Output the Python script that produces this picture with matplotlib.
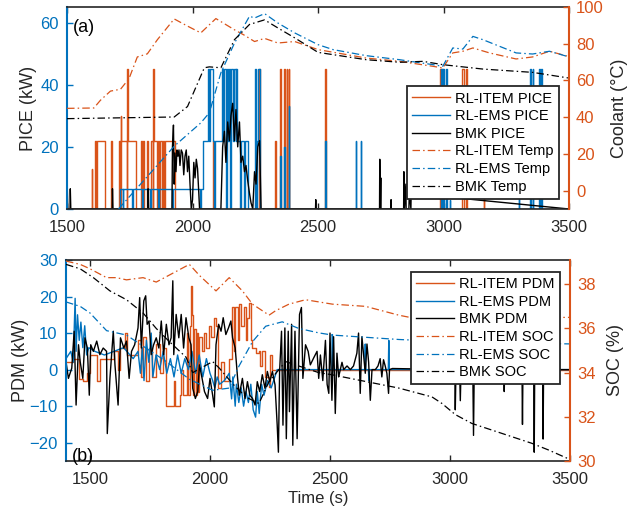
import matplotlib
matplotlib.use("Agg")
import matplotlib.pyplot as plt

plt.rcParams['font.family'] = ['Liberation Sans', 'DejaVu Sans']

ORANGE = '#D95319'
BLUE = '#0072BD'
GREY = '#262626'

# ---------------- (a) engine power / coolant temperature ----------------
# step series: value holds until the next time
item_pice_t = [1500, 1598, 1600, 1612, 1616, 1620, 1652, 1676, 1680, 1706, 1712, 1714, 1717, 1737,
               1739, 1741, 1775, 1793, 1797, 1803, 1806, 1818, 1824, 1836, 1842, 1844, 1847, 1858,
               1861, 1868, 1872, 1878, 1882, 1888, 1892, 1930, 2082, 2085, 2264, 2267, 2330, 2332,
               2350, 2352, 2365, 2367, 2375, 2377, 2383, 2385, 2529, 2531, 2984, 2996, 3074, 3080,
               3088, 3094, 3160, 3162, 3500]
item_pice_v = [0, 13, 0, 22, 0, 22, 0, 22, 0, 22, 0, 30, 22, 0,
               45, 22, 0, 22, 0, 22, 0, 22, 0, 22, 0, 45, 22, 0,
               22, 0, 22, 0, 22, 0, 22, 0, 22, 0, 45, 0, 22, 0,
               45, 0, 45, 0, 45, 0, 45, 0, 45, 0, 45, 0, 45, 0,
               45, 0, 4, 0, 0]

ems_pice_t = [1500, 1710, 1722, 1724, 1760, 1763, 1800, 1803, 1830, 1833, 1862, 1865, 1920, 1923,
              2030, 2033, 2040, 2062, 2066, 2070, 2082, 2086, 2089, 2118, 2123, 2126, 2133, 2136,
              2141, 2145, 2150, 2153, 2160, 2165, 2172, 2175, 2178, 2190, 2193, 2205, 2208, 2222,
              2249, 2253, 2256, 2262, 2269, 2350, 2352, 2365, 2367, 2383, 2385, 2529, 2531, 2650,
              2652, 2670, 2672, 2990, 2993, 2998, 3001, 3010, 3013, 3025, 3027, 3300, 3302, 3345,
              3348, 3355, 3358, 3380, 3383, 3390, 3393, 3500]
ems_pice_v = [0, 6.5, 0, 6.5, 0, 6.5, 0, 6.5, 0, 6.5, 0, 6.5, 0, 6.5,
              0, 6.5, 22, 45, 22, 45, 22, 0, 22, 45, 22, 45, 0, 45,
              22, 45, 0, 45, 22, 45, 22, 45, 22, 0, 22, 0, 22, 0,
              45, 0, 22, 45, 0, 17, 0, 20, 0, 33, 0, 22, 0, 22,
              0, 22, 0, 45, 0, 45, 0, 45, 0, 3, 0, 5, 0, 45,
              0, 45, 0, 45, 0, 45, 0, 0]

bmk_pice_t = [1500, 1501, 1503, 1512, 1513, 1515, 1680, 1681, 1683, 1822, 1823, 1825, 1918, 1920,
              1924, 1927, 1930, 1934, 1938, 1942, 1946, 1950, 1955, 1960, 1965, 1970, 1975, 1980,
              1985, 1990, 1995, 2000, 2005, 2010, 2015, 2020, 2025, 2028, 2113, 2120, 2127, 2133,
              2140, 2147, 2153, 2160, 2167, 2173, 2180, 2187, 2193, 2200, 2207, 2213, 2220, 2227,
              2233, 2240, 2247, 2253, 2260, 2267, 2273, 2490, 2491, 2492, 2745, 2746, 2748, 2750,
              2751, 2790, 2791, 2792, 2841, 2842, 2844, 2850, 2851, 2862, 2864, 2870, 2871, 3500]
bmk_pice_v = [0, 6.5, 0, 0, 6.5, 0, 0, 6.5, 0, 0, 6.5, 0, 0, 20,
              27, 8, 18, 12, 19, 17, 19, 14, 19, 18, 11, 17, 19, 12,
              17, 8, 0, 3, 15, 10, 16, 13, 5, 0, 0, 20, 25, 15,
              28, 22, 30, 34, 22, 32, 20, 28, 15, 17, 12, 14, 9, 5,
              2, 0, 12, 8, 20, 22, 0, 0, 3, 0, 0, 16, 0, 10,
              0, 0, 3, 0, 0, 12, 0, 8, 0, 0, 6, 0, 5, 0]

item_temp_t = [1500, 1607, 1633, 1673, 1713, 1747, 1780, 1820, 1860, 1927, 1980, 2033, 2093, 2167,
               2207, 2247, 2287, 2340, 2407, 2500, 2692, 2825, 2958, 2997, 3037, 3077, 3117, 3183,
               3289, 3355, 3422, 3500]
item_temp_v = [44.8, 45, 49.2, 54.2, 55.2, 61, 72.8, 74.5, 82.2, 93.5, 89.6, 85.9, 93.7, 87.6,
               84.6, 81.2, 82.9, 80.4, 81.2, 76.8, 72.2, 70.4, 67.7, 66.8, 75, 75.9, 77.7, 75,
               71.7, 72.8, 75.9, 73]

ems_temp_t = [1705, 1927, 2033, 2067, 2113, 2167, 2227, 2247, 2287, 2340, 2407, 2500, 2560, 2692,
              2825, 2958, 2997, 3037, 3077, 3117, 3157, 3289, 3355, 3422, 3500]
ems_temp_v = [-10, 24.2, 36.9, 42.4, 64.2, 80.3, 95, 94, 96.4, 91.3, 85.9, 79.5, 76.8, 73.5,
              71.3, 68.6, 67.7, 77.7, 77.1, 84, 82.2, 75, 74.4, 75.9, 72.8]

bmk_temp_t = [1500, 1927, 1980, 2047, 2067, 2113, 2167, 2227, 2287, 2340, 2407, 2500, 2692, 2825,
              2918, 2997, 3157, 3355, 3500]
bmk_temp_v = [39.2, 40.1, 45.8, 66.9, 67.4, 66.9, 82.2, 90.5, 93, 88.6, 83.2, 75.3, 71.3, 69.9,
              70.4, 68.6, 66.2, 64.4, 61.3]

# ---------------- (b) motor power / battery SOC ----------------
item_pdm_t = [1400, 1430, 1455, 1470, 1486, 1500, 1530, 1540, 1600, 1615, 1625, 1645, 1655, 1700,
              1714, 1722, 1735, 1745, 1760, 1776, 1790, 1805, 1818, 1848, 1855, 1873, 1880, 1888,
              1905, 1910, 1915, 1921, 1925, 1928, 1935, 1940, 1945, 1950, 1956, 1965, 1975, 1985,
              1995, 2005, 2015, 2025, 2032, 2045, 2060, 2080, 2090, 2100, 2105, 2115, 2122, 2130,
              2140, 2149, 2155, 2162, 2170, 2177, 2190, 2204, 2210, 2218, 2230, 2245, 2252, 2260,
              3500]
item_pdm_v = [2, 3, -2.5, -3, -1, 4, -3, 3, 5, 0, 6, 10, 4, 8,
              -2, 9, -3, 6, -2, 7, -1, 6, -10, -3, -10, -7, 0, -7,
              10, -7, 12, 23, 15, -7, 11, -7, 10, -6, 9, 5, 10, 6,
              12, 9, 14, 12, -5, 2, -3, 3, 17, 5, 17, 8, 18, 12,
              17, 8, 14, 18.3, 8, 6, 4.5, 5, 1, 5, -2, -4.7, 4, 0,
              0]

ems_pdm_t = [1400, 1420, 1430, 1438, 1442, 1448, 1455, 1462, 1470, 1478, 1486, 1495, 1520, 1560,
             1600, 1640, 1680, 1700, 1710, 1718, 1725, 1735, 1745, 1755, 1762, 1775, 1790, 1805,
             1820, 1835, 1850, 1865, 1880, 1895, 1910, 1925, 1940, 1955, 1970, 1985, 2000, 2011,
             2020, 2030, 2040, 2060, 2080, 2090, 2095, 2105, 2110, 2120, 2130, 2140, 2150, 2160,
             2170, 2180, 2190, 2197, 2205, 2215, 2225, 2240, 2255, 2270, 2280, 2508, 2510, 2512,
             2645, 2647, 2649, 2660, 2662, 2664, 2743, 2745, 2747, 3500]
ems_pdm_v = [3, 5, 2, 19.5, 5, 15, 8, 13, 6, 12, 4, 6, 5, 4,
             5, 6, 3, 5, -1, 6, -3, 8, 2, 10, -2, 4, 0, 5,
             -1, 3, -2, 4, -1, 3, 0, 5, -1, 4, -2, 3, -1, -3,
             -5, -2, -4, -3, -1, -8, -2, -10, -4, -9, -5, -10, -6, -9,
             -4, -11, -13, -6, -12, -4, -7, -3, -5, -2, 0, 0, 9.6, 0,
             0, 7, 0, 0, -3, 0, 0, 8, 0, 0]

bmk_pdm_t = [1400, 1410, 1424, 1434, 1442, 1452, 1459, 1470, 1479, 1489, 1497, 1503, 1514, 1528,
             1541, 1555, 1569, 1572, 1583, 1597, 1604, 1617, 1627, 1641, 1652, 1663, 1673, 1686,
             1700, 1707, 1714, 1724, 1732, 1738, 1746, 1755, 1765, 1776, 1787, 1797, 1807, 1818,
             1829, 1838, 1845, 1849, 1859, 1870, 1880, 1890, 1900, 1912, 1921, 1928, 1939, 1949,
             1956, 1967, 1977, 1990, 2000, 2011, 2018, 2025, 2036, 2046, 2055, 2066, 2077, 2087,
             2094, 2105, 2115, 2122, 2135, 2146, 2156, 2166, 2177, 2188, 2197, 2207, 2218, 2229,
             2239, 2249, 2260, 2271, 2280, 2285, 2290, 2298, 2304, 2312, 2318, 2326, 2331, 2340,
             2345, 2354, 2363, 2373, 2381, 2387, 2398, 2409, 2418, 2432, 2446, 2453, 2460, 2470,
             2481, 2488, 2495, 2500, 2508, 2515, 2522, 2529, 2536, 2543, 2550, 2557, 2571, 2585,
             2598, 2612, 2619, 2626, 2633, 2640, 2647, 2654, 2661, 2668, 2675, 2689, 2700, 2709,
             2716, 2723, 2730, 2737, 2744, 2748, 2760, 3020, 3022, 3025, 3040, 3043, 3046, 3095,
             3098, 3101, 3224, 3226, 3228, 3300, 3302, 3304, 3349, 3351, 3353, 3386, 3388, 3390,
             3500]
bmk_pdm_v = [2.2, -2.4, 0.4, 10.5, -9.7, 6.8, 2.2, -2.4, 8.7, 5.9, -7, 6.8, 5, 7.8,
             4.1, 5.9, 5, -17.5, -2.4, 10.5, 1.3, -9.7, 8.7, 5.9, 7.8, -2.4, 5, 6.8,
             11.4, 19.7, 5.9, 18.8, 20.2, 12.4, 13.3, 4.1, 6.8, 8.7, 5.9, 13.3, 4.1, 12.4,
             6.8, 8.7, 24.3, 4.1, 15.1, 8.7, 15.1, 5.9, 14.2, 8.7, 6.8, -5.1, -7.9, -6,
             1.3, -2.4, -6, -7.9, -2.4, -7, -10.2, 6.8, 12.4, 10.5, 14.2, 9.6, 11.4, 13.3,
             8.7, 5.9, -2.4, -7, -2.4, -7.9, -3.3, -7, -7.9, -9.7, -3.3, -6, -1.4, -5.1,
             -0.5, -3.3, -0.5, -4.2, -15.2, -22.6, -0.5, 10.5, -15.2, 11.4, -18.9, 10.5, -11.5, 12.4,
             -20.7, 10.5, -18.9, 15.1, 17, -2.4, 6.8, 5, 1.3, 3.2, 5, -2.4, 4, -3,
             8, -4, -6.5, 10, -8.4, 9, -12, 4.5, -2, 0, 2, 0, 1, 0,
             1, 4.5, 10, -6.5, 9, 4, -1, 7, 2, -8.4, 0, 0, 1, 3,
             -2, 2.7, 1, -1, -6.5, 0, 0.3, 0, -11, 0, 0, -8.5, 0, 0,
             -18, 0, 0, -6, 0, 0, -15, 0, 0, -22.6, 0, 0, -19, 0,
             0]

item_soc_t = [1400, 1459, 1500, 1569, 1610, 1652, 1721, 1776, 1845, 1914, 1956, 2025, 2080, 2135,
              2177, 2246, 2273, 2329, 2398, 2510, 2648, 2787, 2925, 3008, 3200, 3400, 3500]
item_soc_v = [39.05, 38.9, 38.7, 38.3, 38.3, 38.2, 38.3, 38.1, 38.5, 38.9, 38.4, 37.7, 38.3, 37.7,
              37.1, 36.6, 36.8, 37.1, 37.3, 37.1, 37.0, 36.6, 36.3, 36.2, 36.4, 36.5, 36.5]

ems_soc_t = [1400, 1459, 1500, 1569, 1652, 1721, 1818, 1914, 2011, 2080, 2121, 2177, 2232, 2301,
             2370, 2453, 2510, 2648, 2787, 3000, 3200, 3500]
ems_soc_v = [37.2, 37.0, 36.7, 35.9, 35.7, 35.2, 34.5, 33.7, 33.2, 33.3, 34.3, 35.4, 36.1, 36.3,
             36.0, 35.8, 35.7, 35.6, 35.5, 35.4, 35.35, 35.3]

bmk_soc_t = [1400, 1459, 1514, 1583, 1652, 1721, 1776, 1831, 1900, 1928, 2011, 2039, 2094, 2149,
             2204, 2246, 2315, 2370, 2453, 2510, 2648, 2787, 2925, 2967, 3022, 3091, 3202, 3341,
             3410, 3493]
bmk_soc_v = [38.9, 38.7, 38.3, 37.7, 37.3, 36.7, 36.0, 35.4, 34.7, 34.0, 34.5, 34.2, 33.5, 32.9,
             32.6, 33.6, 34.5, 34.3, 34.0, 33.9, 33.6, 33.3, 32.9, 32.6, 32.1, 31.7, 31.3, 30.8,
             30.5, 30.1]

DASHDOT = (0, (6, 2.5, 1.2, 2.5))

fig = plt.figure(figsize=(6.39, 5.15), dpi=100)


def style_axes(ax, ax2):
    ax.tick_params(axis='both', direction='in', length=4, width=1, labelsize=12,
                   top=True, colors=GREY)
    ax.tick_params(axis='x', pad=8)
    ax.tick_params(axis='y', colors=BLUE, pad=6)
    ax2.tick_params(axis='y', direction='in', length=4, width=1, labelsize=12, colors=ORANGE, pad=5)
    for s in ('top', 'bottom'):
        ax.spines[s].set_color(GREY)
        ax.spines[s].set_linewidth(1.2)
    ax.spines['left'].set_color(BLUE)
    ax.spines['left'].set_linewidth(1.5)
    ax.spines['right'].set_visible(False)
    ax2.spines['left'].set_visible(False)
    ax2.spines['top'].set_visible(False)
    ax2.spines['bottom'].set_visible(False)
    ax2.spines['right'].set_color(ORANGE)
    ax2.spines['right'].set_linewidth(1.5)


# ---- (a)
ax = fig.add_axes([0.1049, 0.5942, 0.7856, 0.3922])
ax2 = ax.twinx()
h1, = ax.plot(item_pice_t, item_pice_v, color=ORANGE, lw=1.0, drawstyle='steps-post', label='RL-ITEM PICE')
h2, = ax.plot(ems_pice_t, ems_pice_v, color=BLUE, lw=1.0, drawstyle='steps-post', label='RL-EMS PICE')
h3, = ax.plot(bmk_pice_t, bmk_pice_v, color='k', lw=1.0, label='BMK PICE')
h4, = ax2.plot(item_temp_t, item_temp_v, color=ORANGE, lw=0.9, ls=DASHDOT, label='RL-ITEM Temp')
h5, = ax2.plot(ems_temp_t, ems_temp_v, color=BLUE, lw=0.9, ls=DASHDOT, label='RL-EMS Temp')
h6, = ax2.plot(bmk_temp_t, bmk_temp_v, color='k', lw=0.9, ls=DASHDOT, label='BMK Temp')
ax.set_xlim(1500, 3500)
ax.set_ylim(0, 65)
ax2.set_ylim(-10, 100)
ax.set_xticks([1500, 2000, 2500, 3000, 3500])
ax.set_yticks([0, 20, 40, 60])
ax2.set_yticks([0, 20, 40, 60, 80, 100])
ax.set_ylabel('PICE (kW)', fontsize=13, color=GREY, labelpad=2)
ax2.set_ylabel('Coolant (°C)', fontsize=13, color=GREY, labelpad=5)
style_axes(ax, ax2)
ax.text(0.012, 0.9, '(a)', transform=ax.transAxes, fontsize=13, color='k', va='center')
leg = ax2.legend(handles=[h1, h2, h3, h4, h5, h6], loc='lower right', bbox_to_anchor=(0.98, 0.05),
                 fontsize=10.5, frameon=True, fancybox=False, edgecolor=GREY, framealpha=1,
                 handlelength=2.6, handletextpad=0.35, labelspacing=0.25, borderpad=0.35,
                 borderaxespad=0)
leg.get_frame().set_linewidth(1.3)

# ---- (b)
bx = fig.add_axes([0.1033, 0.1049, 0.7887, 0.3903])
bx2 = bx.twinx()
g1, = bx.plot(item_pdm_t, item_pdm_v, color=ORANGE, lw=1.0, drawstyle='steps-post', label='RL-ITEM PDM')
g2, = bx.plot(ems_pdm_t, ems_pdm_v, color=BLUE, lw=1.0, label='RL-EMS PDM')
g3, = bx.plot(bmk_pdm_t, bmk_pdm_v, color='k', lw=1.0, label='BMK PDM')
g4, = bx2.plot(item_soc_t, item_soc_v, color=ORANGE, lw=0.9, ls=DASHDOT, label='RL-ITEM SOC')
g5, = bx2.plot(ems_soc_t, ems_soc_v, color=BLUE, lw=0.9, ls=DASHDOT, label='RL-EMS SOC')
g6, = bx2.plot(bmk_soc_t, bmk_soc_v, color='k', lw=0.9, ls=DASHDOT, label='BMK SOC')
bx.set_xlim(1400, 3500)
bx.set_ylim(-25, 30)
bx2.set_ylim(30, 39.1)
bx.set_xticks([1500, 2000, 2500, 3000, 3500])
bx.set_yticks([-20, -10, 0, 10, 20, 30])
bx2.set_yticks([30, 32, 34, 36, 38])
bx.set_ylabel('PDM (kW)', fontsize=13, color=GREY, labelpad=0)
bx2.set_ylabel('SOC (%)', fontsize=13, color=GREY, labelpad=8)
bx.set_xlabel('Time (s)', fontsize=12, color=GREY, labelpad=3)
style_axes(bx, bx2)
bx.text(0.012, 0.02, '(b)', transform=bx.transAxes, fontsize=13, color='k', va='center')
leg = bx2.legend(handles=[g1, g2, g3, g4, g5, g6], loc='upper right', bbox_to_anchor=(0.98, 0.94),
                 fontsize=10.5, frameon=True, fancybox=False, edgecolor=GREY, framealpha=1,
                 handlelength=2.6, handletextpad=0.35, labelspacing=0.25, borderpad=0.35,
                 borderaxespad=0)
leg.get_frame().set_linewidth(1.3)

fig.savefig('out.png', dpi=100)
